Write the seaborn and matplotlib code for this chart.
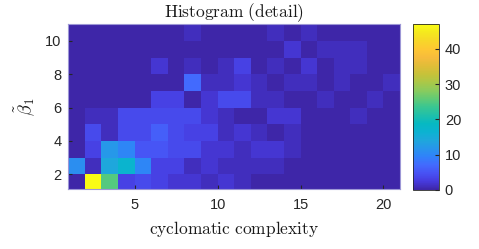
import matplotlib
matplotlib.use("Agg")
import matplotlib.pyplot as plt
from matplotlib.colors import LinearSegmentedColormap
import numpy as np
import pandas as pd
import seaborn as sns

# bin edges of the 2d histogram
x_edges = np.arange(1, 22)   # cyclomatic complexity
y_edges = np.arange(1, 12)   # beta_1
# counts per cell, bottom row (beta 1..2) first, columns x = 1..20
row_b1 = [0, 47, 25, 3, 4, 3, 2, 2, 1, 2, 1, 0, 0, 0, 0, 0, 0, 0, 0, 0]
row_b2 = [11, 1, 14, 17, 10, 3, 3, 1, 2, 1, 1, 1, 1, 0, 0, 0, 0, 0, 0, 0]
row_b3 = [0, 3, 12, 10, 5, 5, 4, 4, 2, 2, 1, 2, 2, 1, 0, 0, 0, 0, 0, 0]
row_b4 = [0, 4, 1, 4, 4, 6, 4, 3, 3, 1, 2, 1, 0, 1, 0, 0, 0, 0, 0, 0]
row_b5 = [0, 1, 1, 4, 4, 4, 4, 4, 2, 1, 0, 0, 2, 2, 0, 0, 0, 1, 0, 0]
row_b6 = [0, 0, 0, 0, 0, 3, 3, 0, 2, 4, 4, 1, 1, 0, 0, 1, 0, 0, 1, 0]
row_b7 = [0, 0, 0, 0, 0, 0, 0, 7, 1, 1, 2, 1, 0, 1, 1, 0, 1, 0, 0, 1]
row_b8 = [0, 0, 0, 0, 0, 2, 0, 1, 0, 1, 3, 0, 1, 0, 2, 0, 1, 1, 0, 0]
row_b9 = [0, 0, 0, 0, 0, 0, 0, 0, 0, 0, 0, 0, 0, 2, 0, 1, 1, 1, 0, 0]
row_b10 = [0, 0, 0, 0, 0, 0, 0, 1, 0, 0, 0, 0, 1, 0, 1, 0, 0, 0, 0, 0]
counts = np.array([row_b1, row_b2, row_b3, row_b4, row_b5,
                   row_b6, row_b7, row_b8, row_b9, row_b10])
cbar_ticks = [0, 10, 20, 30, 40]

parula = LinearSegmentedColormap.from_list("parula", [
    (0.2422, 0.1504, 0.6603), (0.2770, 0.2290, 0.8700), (0.2810, 0.3230, 0.9580),
    (0.2590, 0.4180, 0.9960), (0.1900, 0.5080, 0.9790), (0.1540, 0.5880, 0.9210),
    (0.1180, 0.6560, 0.8600), (0.0440, 0.7000, 0.8200), (0.0250, 0.7250, 0.7600),
    (0.1240, 0.7510, 0.6670), (0.2250, 0.7760, 0.5710), (0.3800, 0.7920, 0.4600),
    (0.5400, 0.7960, 0.3650), (0.6700, 0.7820, 0.2800), (0.7800, 0.7600, 0.2250),
    (0.8800, 0.7400, 0.2200), (0.9650, 0.7350, 0.2350), (0.9950, 0.7800, 0.2000),
    (0.9700, 0.8400, 0.1600), (0.9600, 0.9100, 0.1200), (0.9769, 0.9839, 0.0805)],
    N=256)

xc = (x_edges[:-1] + x_edges[1:]) / 2
yc = (y_edges[:-1] + y_edges[1:]) / 2
X, Y = np.meshgrid(xc, yc)
df = pd.DataFrame({"cc": X.ravel(), "beta": Y.ravel(), "n": counts.ravel()})

plt.rcParams["font.family"] = ["Liberation Sans", "DejaVu Sans"]
plt.rcParams["mathtext.fontset"] = "cm"

fig = plt.figure(figsize=(4.79, 2.49), dpi=100)
ax = fig.add_axes([0.1426, 0.2398, 0.6925, 0.6626])
cax = fig.add_axes([0.8628, 0.2378, 0.0543, 0.6646])

sns.histplot(data=df, x="cc", y="beta", weights="n", bins=[x_edges, y_edges],
             cmap=parula, thresh=None, vmin=0, vmax=47, cbar=True,
             cbar_ax=cax, ax=ax)
mesh = ax.collections[0]
mesh.set_clim(0, 47)

ax.set_xlim(1, 21)
ax.set_ylim(1.1, 11)
ax.set_xticks([5, 10, 15, 20])
ax.set_yticks([2, 4, 6, 8, 10])
ax.tick_params(direction="in", length=3, color="#262626", labelsize=10.5,
               labelcolor="#262626")
ax.tick_params(axis="x", pad=6)
ax.tick_params(axis="y", pad=5)
for s in ax.spines.values():
    s.set_color("#9d97d6")
    s.set_linewidth(0.8)

ax.set_title(r"$\mathrm{Histogram\ (detail)}$", fontsize=12.5, pad=5,
             color="#1a1a1a")
ax.set_xlabel(r"$\mathrm{cyclomatic\ complexity}$", fontsize=12.5,
              color="#1a1a1a", labelpad=5)
ax.set_ylabel(r"$\tilde{\beta}_1$", fontsize=13, color="#1a1a1a", labelpad=6)

cax.set_yticks(cbar_ticks)
cax.tick_params(direction="in", length=3, color="#262626", labelsize=10.5,
                labelcolor="#262626", pad=4)
cax.yaxis.set_ticks_position("right")
if mesh.colorbar is not None:
    mesh.colorbar.outline.set_edgecolor("#262626")
    mesh.colorbar.outline.set_linewidth(0.6)

fig.savefig("out.png", dpi=100)
